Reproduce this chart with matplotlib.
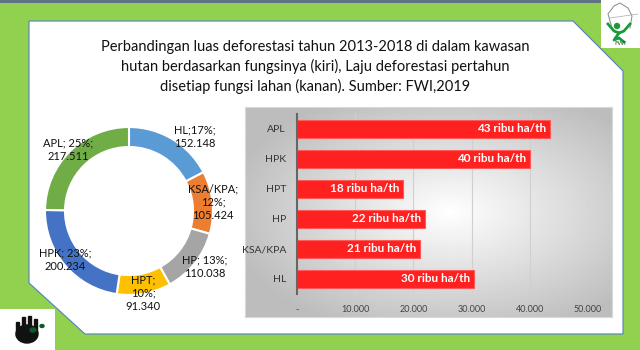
import matplotlib
matplotlib.use("Agg")
import matplotlib.pyplot as plt
from matplotlib.patches import Polygon, Rectangle, Ellipse
import numpy as np

plt.rcParams['font.family'] = ['Lato', 'DejaVu Sans']

# donut data (luas deforestasi 2013-2018, ha)
donut_labels = ["HL", "KSA/KPA", "HP", "HPT", "HPK", "APL"]
donut_values = [152148, 105424, 110038, 91340, 200234, 217511]
donut_colors = ["#5b9bd5", "#ed7d31", "#a5a5a5", "#ffc000", "#4472c4", "#70ad47"]
donut_seps = [";", "; ", "; ", "; ", "; ", "; "]
# label block centres (pixels) and line breaks
donut_label_pos = [(195, 137), (213, 202), (205, 267), (143, 293), (65, 260), (68, 150)]
donut_breaks = [[False, True], [True, True], [False, True], [True, True], [False, True], [False, True]]

# bar data (laju deforestasi per tahun, ha/th)
bar_labels = ["HL", "KSA/KPA", "HP", "HPT", "HPK", "APL"]
bar_values = [30400, 21130, 22000, 18270, 40070, 43500]
xticks = [0, 10000, 20000, 30000, 40000, 50000]
xtick_labels = ["-", "10.000", "20.000", "30.000", "40.000", "50.000"]

title = ("Perbandingan luas deforestasi tahun 2013-2018 di dalam kawasan\n"
         "hutan berdasarkan fungsinya (kiri), Laju deforestasi pertahun\n"
         "disetiap fungsi lahan (kanan). Sumber: FWI,2019")

W, H = 640, 350
fig = plt.figure(figsize=(6.4, 3.5), dpi=100)
fig.patch.set_facecolor("#92d050")

# background layer in pixel coordinates
bg = fig.add_axes([0, 0, 1, 1])
bg.set_xlim(0, W)
bg.set_ylim(H, 0)
bg.axis("off")
bg.add_patch(Rectangle((0, 0), W, 2.5, color="#5d7282", lw=0))
panel = [(29, 21), (573, 21), (623, 71), (623, 334), (85, 334), (29, 283)]
bg.add_patch(Polygon(panel, closed=True, facecolor="white", edgecolor="#4f81bd", lw=0.8))

# logos (simplified)
bg.add_patch(Rectangle((601, 0), 39, 48, facecolor="white", lw=0))
bg.plot([612, 608, 614, 620, 628, 632, 630], [28, 14, 6, 3, 8, 16, 28], color="#888888", lw=0.7)
bg.plot([610, 638], [18, 14], color="#aaaaaa", lw=0.5)
bg.add_patch(Ellipse((617, 26), 5, 5, color="#1a9a3a"))
bg.plot([608, 614, 619, 624, 630], [24, 31, 33, 31, 24], color="#1a9a3a", lw=2)
bg.plot([619, 614, 619, 624], [33, 40, 38, 42], color="#1a9a3a", lw=2)
bg.text(620, 46, "FWI", fontsize=4.5, color="#1a5a2a", ha="center", va="bottom")
bg.add_patch(Rectangle((0, 309), 55, 41, facecolor="white", lw=0))
bg.add_patch(Ellipse((27, 334), 22, 18, color="#111111"))
for fx, fy in [(16, 322), (22, 317), (28, 316), (34, 319)]:
    bg.add_patch(Rectangle((fx, fy), 3, 14, color="#111111"))
bg.add_patch(Ellipse((33, 330), 6, 4, color="#0b5a2a"))
bg.add_patch(Ellipse((42, 326), 4, 3, color="#0b5a2a"))

bg.text(315, 67, title, fontsize=10.5, color="#111111", ha="center", va="center",
        linespacing=1.45)

# donut
cx, cy, R = 129, 211, 84
dax = fig.add_axes([(cx - 100) / W, 1 - (cy + 100) / H, 200 / W, 200 / H])
dax.pie(donut_values, colors=donut_colors, startangle=90, counterclock=False,
        radius=R, wedgeprops=dict(width=20, edgecolor="white", linewidth=1.5))
dax.set_xlim(-100, 100)
dax.set_ylim(-100, 100)
dax.set_aspect("equal")
dax.axis("off")

# grey radial gradient box behind bar chart
gx0, gy0, gx1, gy1 = 245, 107, 612, 317
gax = fig.add_axes([gx0 / W, 1 - gy1 / H, (gx1 - gx0) / W, (gy1 - gy0) / H])
yy, xx = np.mgrid[0:1:200j, 0:1:360j]
r = np.sqrt(((xx - 0.56) / 0.5) ** 2 + ((yy - 0.5) / 0.5) ** 2)
shade = np.clip(1.0 - 0.21 * r, 0.74, 1.0)
gax.imshow(shade, cmap="gray", vmin=0, vmax=1, aspect="auto",
           extent=[0, 1, 0, 1], origin="upper")
gax.set_xticks([])
gax.set_yticks([])
for sp in gax.spines.values():
    sp.set_color("#d9d9d9")
    sp.set_linewidth(0.8)

# bar chart
bax = fig.add_axes([297 / W, 1 - 294 / H, (588 - 297) / W, 180 / H])
bax.patch.set_alpha(0)
ypos = np.arange(len(bar_labels))
bax.barh(ypos, bar_values, height=0.6, color="#ff2020", edgecolor="#ff5a5a", lw=0.8, zorder=3)
for y, v in zip(ypos, bar_values):
    bax.text(v - 700, y, f"{int(v // 1000)} ribu ha/th", color="white", fontsize=8.5,
             fontweight="bold", ha="right", va="center", zorder=4)
bax.set_xlim(0, 50000)
bax.set_ylim(-0.5, len(bar_labels) - 0.5)
bax.set_yticks(ypos)
bax.set_yticklabels(bar_labels, fontsize=7.5, color="#333333")
bax.set_xticks(xticks)
bax.set_xticklabels(xtick_labels, fontsize=6.5, color="#444444")
bax.tick_params(length=0, pad=8)
bax.tick_params(axis="y", pad=8)
bax.grid(axis="x", color="#d0d0d0", lw=0.8, zorder=0)
for s in ["top", "right", "bottom"]:
    bax.spines[s].set_visible(False)
bax.spines["left"].set_color("#666666")
bax.spines["left"].set_linewidth(1.5)
bax.spines["left"].set_zorder(5)

# donut labels on an overlay so they sit above the ring
top = fig.add_axes([0, 0, 1, 1])
top.set_xlim(0, W)
top.set_ylim(H, 0)
top.axis("off")
top.patch.set_alpha(0)
total = sum(donut_values)
for lab, v, sep, (px, py), br in zip(donut_labels, donut_values, donut_seps,
                                     donut_label_pos, donut_breaks):
    pct = f"{round(v / total * 100)}%;"
    val = f"{v:,}".replace(",", ".")
    s = lab + (";\n" if br[0] else sep) + pct + ("\n" if br[1] else " ") + val
    top.text(px, py, s, fontsize=8, color="#111111", ha="center", va="center",
             linespacing=1.25)

fig.savefig("out.png", dpi=100, facecolor=fig.get_facecolor())
